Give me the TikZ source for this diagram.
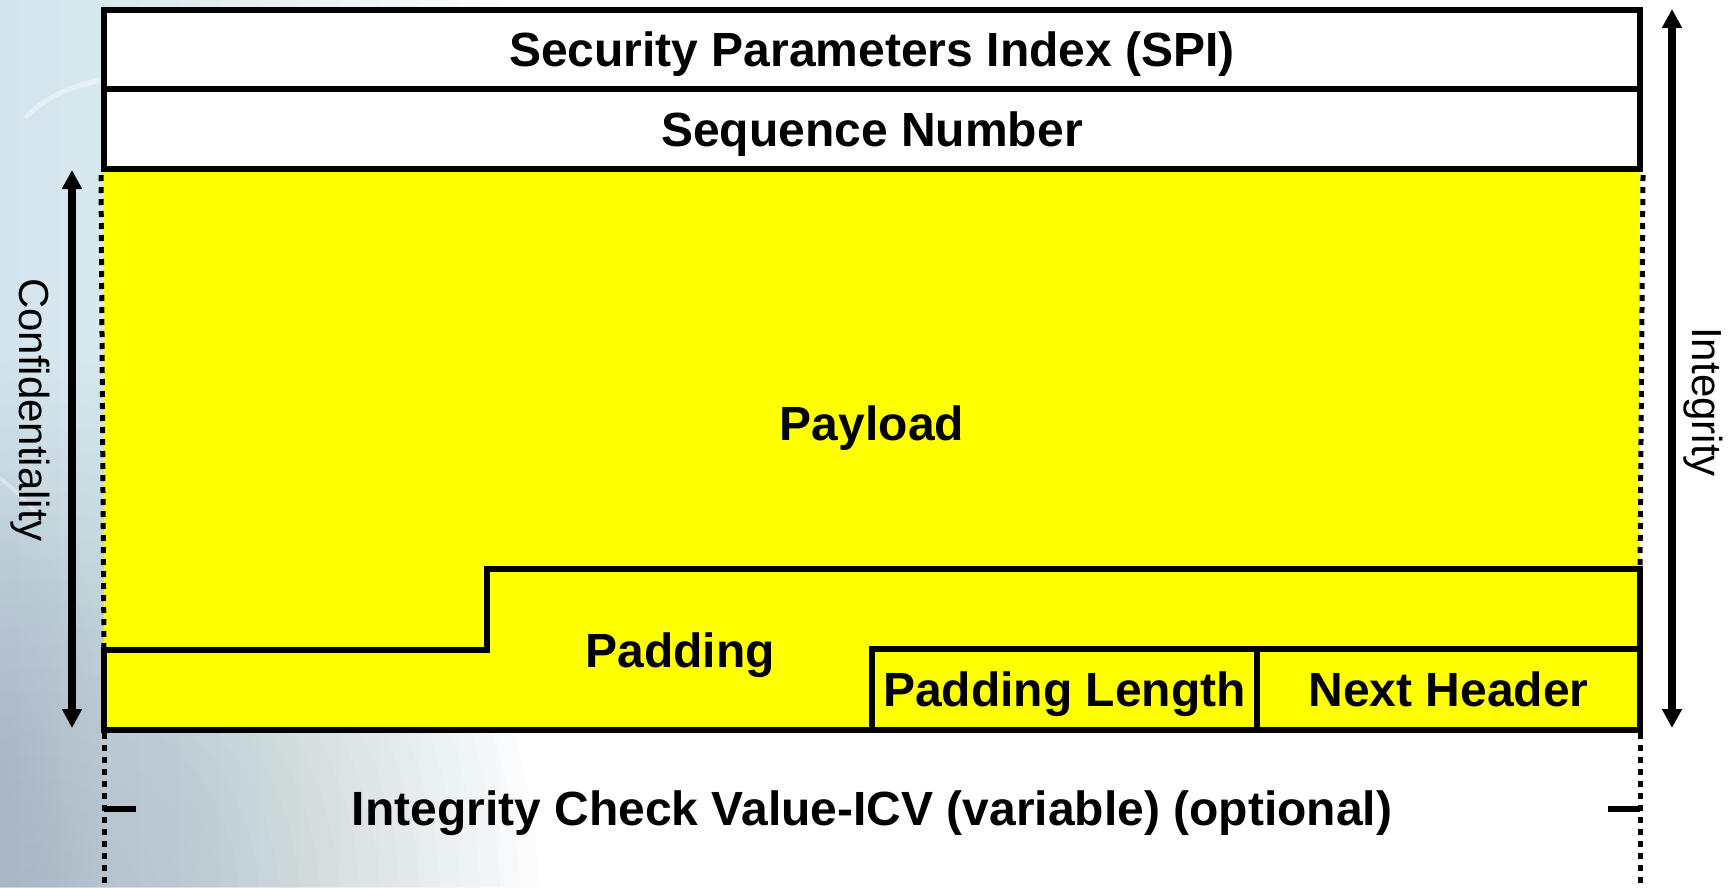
\documentclass[tikz,border=0pt]{standalone}
\usepackage{fontspec}
\setmainfont{Liberation Sans}
\usetikzlibrary{arrows.meta}

\definecolor{fieldyellow}{RGB}{255,255,0}
\definecolor{sky}{RGB}{178,212,238}
\definecolor{earth}{RGB}{140,152,168}

\begin{document}
\begin{tikzpicture}[x=1pt,y=-1pt,
  big/.style={font=\fontsize{48}{56}\selectfont\bfseries, text height=34pt, text depth=0pt, inner sep=0pt},
  field/.style={big, draw=black, line width=6pt},
  side/.style={font=\fontsize{42}{50}\selectfont, rotate=-90, inner sep=0pt, anchor=base},
  span/.style={line width=8pt, {Triangle[length=19pt,width=19pt]}-{Triangle[length=19pt,width=19pt]}},
  edge/.style={line width=6pt, line join=miter},
  dots/.style={line width=5pt, dash pattern=on 6pt off 6pt},
]
\useasboundingbox (0,0) rectangle (1736,887);

% backdrop: pale sky with a faded globe on the left, built from soft layers
\fill[white] (0,0) rectangle (1736,887);
\foreach \w in {20,40,...,520} {
  \fill[sky, opacity=0.025] (0,0) rectangle (\w,887);
}
\foreach \r in {20,40,...,500} {
  \fill[earth, opacity=0.018] (40,910) ellipse ({\r} and {\r*1.1});
}
\foreach \r in {20,40,...,240} {
  \fill[earth, opacity=0.015] (0,760) ellipse ({\r*0.45} and {\r*1.2});
}
\draw[white, line width=5pt, opacity=0.4] (25,118) .. controls (80,60) and (210,60) .. (265,155);
\draw[white, line width=4pt, opacity=0.35] (0,478) .. controls (15,490) and (30,505) .. (42,520);

% header fields
\node[field, fill=white, minimum width=1536pt, minimum height=79pt] (spi) at (872,49.5) {Security Parameters Index (SPI)};
\node[field, fill=white, minimum width=1536pt, minimum height=80pt] (seq) at (872,129) {Sequence Number};

% encrypted part
\node[fill=fieldyellow, inner sep=0pt, minimum width=1536pt, minimum height=558pt, anchor=north] (body) at (872,172) {};
\node[big] (payload) at (872,423) {Payload};

\coordinate (stepL) at (104,650);
\coordinate (stepR) at (487,569);
\coordinate (padTR) at (1640,569);
\coordinate (padBR) at (1640,730);
\coordinate (padBL) at (104,730);
\draw[edge] (padTR) -- (padBR) -- (padBL) -- (stepL) -| (stepR) -- cycle;
\node[big] (padding) at (680,650) {Padding};

\node[field, minimum width=385pt, minimum height=81pt] (padlen) at (1064.5,689.5) {Padding Length};
\node[field, minimum width=383pt, minimum height=81pt] (nexthdr) at (1448.5,689.5) {Next Header};

% optional ICV below the trailer
\coordinate (leftFoot) at (104,887);
\coordinate (rightFoot) at (1640,887);
\draw[dots] (seq.south west) ++(0,3) -- (stepL);
\draw[dots] (padBL) ++(0,3) -- (leftFoot);
\draw[dots] (seq.south east) ++(0,3) -- (padTR);
\draw[dots] (padBR) ++(0,3) -- (rightFoot);

\coordinate (tickL) at (136,809);
\coordinate (tickR) at (1608,809);
\draw[line width=6pt] (104,809) -- (tickL);
\draw[line width=6pt] (tickR) -- (1640,809);
\node[big] (icv) at (872,808) {Integrity Check Value-ICV (variable) (optional)};

% coverage spans
\coordinate (confTop) at (72,170);
\coordinate (confBot) at (72,728);
\draw[span] (confTop) -- (confBot);
\node[side] (conf) at (19,410) {Confidentiality};

\coordinate (intTop) at (1672,9);
\coordinate (intBot) at (1672,728);
\draw[span] (intTop) -- (intBot);
\node[side] (integ) at (1692,402) {Integrity};
\end{tikzpicture}
\end{document}
